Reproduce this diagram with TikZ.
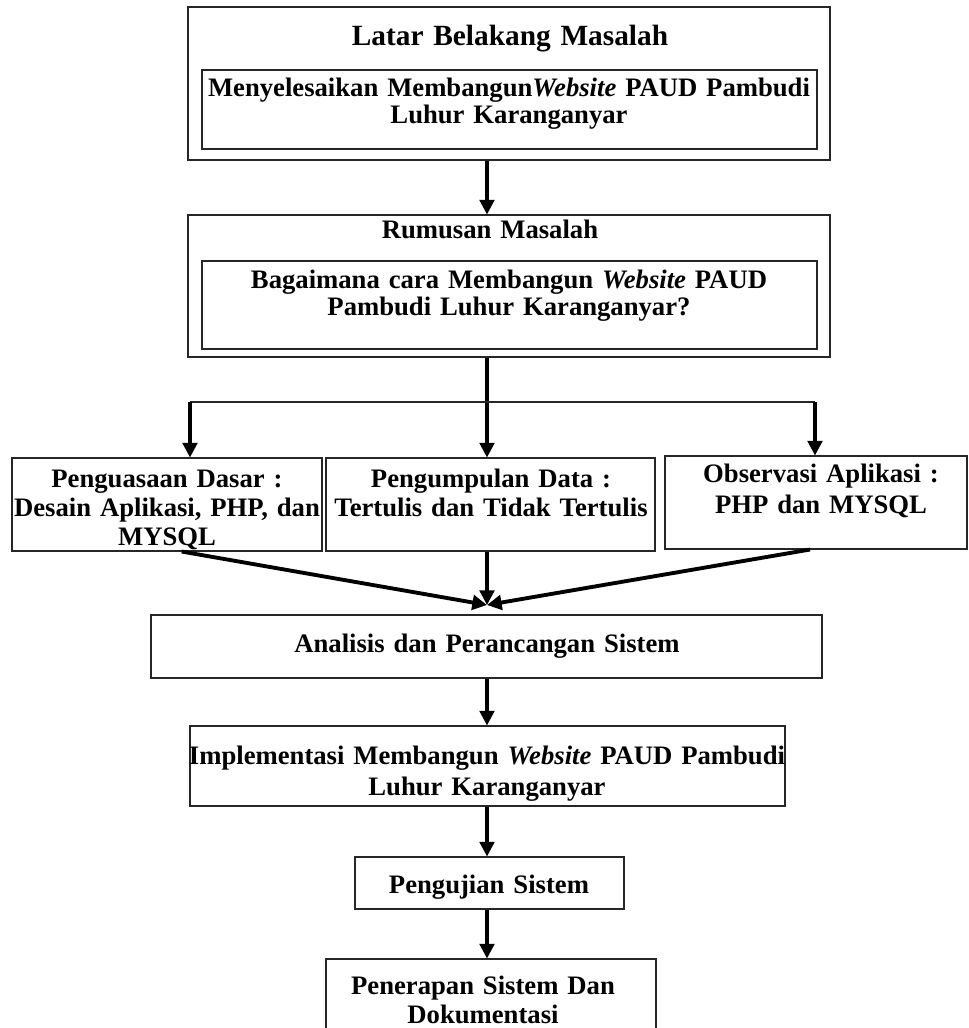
\documentclass[tikz,border=0pt]{standalone}
\usepackage{fontspec}
\setmainfont{Liberation Serif}
\usepackage{tikz}
\usetikzlibrary{positioning}
\usetikzlibrary{calc}
\usetikzlibrary{arrows.meta}
\usetikzlibrary{fit}

\begin{document}
\begin{tikzpicture} [
    x=0.75pt, y=-0.75pt,           % pixel grid, flow is top-to-bottom
    ]
% -------------------------------------------------
\tikzset{
  base/.style={draw=black!85, line width=0.8pt, inner sep=0pt},
  rect/.style={base, rectangle},
  txt/.style={inner sep=0pt, anchor=base, align=center, text width=470pt,
              font=\bfseries\fontsize{20}{#1}\selectfont},
  txt/.default=21.75pt,
  line/.style={draw, line width=2.4pt, -{Triangle[width=11pt,length=11pt]}},
  conv/.style={draw, line width=2.9pt, -{Triangle[width=11pt,length=11pt]}},
}
    \useasboundingbox (0,0) rectangle (968,1028);

    \node [rect, fit={(188,7) (830,160)}] (lbm) {};
    \node [rect, fit={(202,70) (817,149)}] (lbm-in) {};
    \node [txt, font=\bfseries\fontsize{22}{24}\selectfont] (lbm-t) at (510,45) {Latar Belakang Masalah};
    \node [txt=20.8pt] (lbm-x) at (509,96) {Menyelesaikan Membangun\textit{Website} PAUD Pambudi\\Luhur Karanganyar};

    \node [rect, fit={(188,215) (830,357)}] (rm) {};
    \node [rect, fit={(202,261) (817,349)}] (rm-in) {};
    \node [txt] (rm-t) at (490,238) {Rumusan Masalah};
    \node [txt=20.25pt] (rm-x) at (509,288) {Bagaimana cara Membangun \textit{Website} PAUD\\Pambudi Luhur Karanganyar?};

    \node [rect, fit={(12,458) (322,551)}] (pd) {};
    \node [rect, fit={(326,458) (655,551)}] (pg) {};
    \node [rect, fit={(665,456) (967,549)}] (oa) {};
    \node [txt] (pd-x) at (167,487) {Penguasaan Dasar :\\Desain Aplikasi, PHP, dan\\MYSQL};
    \node [txt] (pg-x) at (491,487) {Pengumpulan Data :\\Tertulis dan Tidak Tertulis};
    \node [txt=23.8pt] (oa-x) at (821,482) {Observasi Aplikasi :\\PHP dan MYSQL};

    \node [rect, fit={(151,615) (822,678)}] (aps) {};
    \node [txt] (aps-x) at (487,652) {Analisis dan Perancangan Sistem};

    \node [rect, fit={(190,726) (785,806)}] (imp) {};
    \node [txt=23.8pt] (imp-x) at (487,764) {Implementasi Membangun \textit{Website} PAUD Pambudi\\Luhur Karanganyar};

    \node [rect, fit={(355,857) (624,909)}] (uji) {};
    \node [txt] (uji-x) at (489,893) {Pengujian Sistem};

    \node [rect, fit={(326,959) (656,1040)}] (trp) {};
    \node [txt] (trp-x) at (483,994) {Penerapan Sistem Dan\\Dokumentasi};

% -------------------------------------------------
    \coordinate (spine) at (487,0);
    \coordinate (bl) at (190,402);
    \coordinate (br) at (815,402);
    \coordinate (meet) at (487,605);

    \path [line] (lbm.south -| spine) -- (rm.north -| spine);
    \path [line] (rm.south -| spine) -- (pg.north -| spine);
    \draw [black!85, line width=0.8pt] (bl) -- (br);
    \path [line] (bl) -- (bl |- pd.north);
    \path [line] (br) -- (br |- oa.north);

    \path [conv] ([xshift=11pt]pd.south) -- (meet);
    \path [line] (pg.south -| spine) -- (meet);
    \path [conv] ([xshift=-4.5pt]oa.south) -- (meet);

    \path [line] (aps.south -| spine) -- (imp.north -| spine);
    \path [line] (imp.south -| spine) -- (uji.north -| spine);
    \path [line] (uji.south -| spine) -- (trp.north -| spine);

\end{tikzpicture}
\end{document}
